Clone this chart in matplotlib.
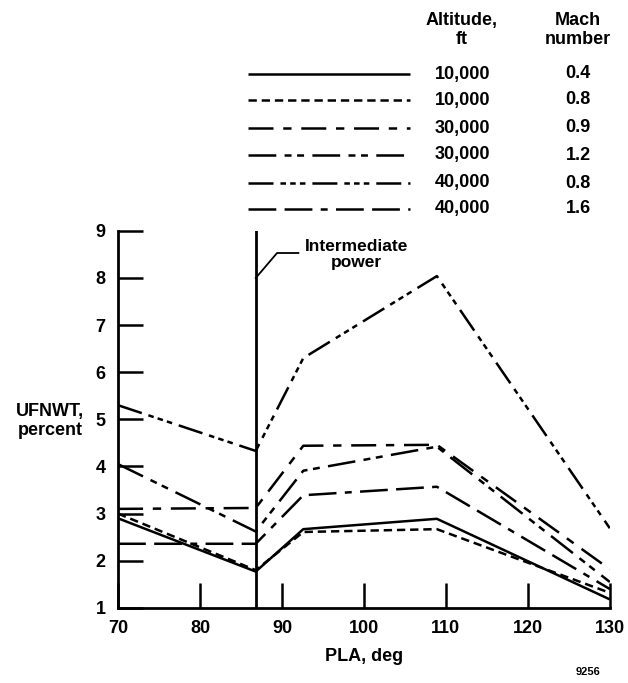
import matplotlib
matplotlib.use("Agg")
import matplotlib.pyplot as plt
from matplotlib.lines import Line2D

plt.rcParams["font.family"] = ["Liberation Sans", "DejaVu Sans"]
plt.rcParams["font.weight"] = "bold"
plt.rcParams["lines.scale_dashes"] = False

# PLA, deg
pla = [70, 86.8, 92.6, 108.9, 130]

# UFNWT, percent for each flight condition
alt10k_m04 = [2.9, 1.77, 2.67, 2.89, 1.18]
alt10k_m08 = [3.0, 1.80, 2.61, 2.67, 1.32]
alt30k_m09 = [3.1, 3.12, 4.44, 4.46, 1.82]
alt30k_m12 = [4.05, 2.62, 3.91, 4.42, 1.55]
alt40k_m08 = [5.3, 4.33, 6.3, 8.04, 2.69]
alt40k_m16 = [2.36, 2.36, 3.39, 3.57, 1.40]

altitudes = ["10,000", "10,000", "30,000", "30,000", "40,000", "40,000"]
machs = ["0.4", "0.8", "0.9", "1.2", "0.8", "1.6"]

series = [alt10k_m04, alt10k_m08, alt30k_m09, alt30k_m12, alt40k_m08, alt40k_m16]
styles = [
    (0, ()),
    (0, (6, 3.5)),
    (0, (18, 7, 6, 7)),
    (0, (20, 6, 5, 4, 5, 6)),
    (0, (18, 5, 4, 3, 4, 3, 4, 5)),
    (0, (20, 6, 20, 6, 5, 6)),
]

intermediate_pla = 86.8
FS = 13

fig = plt.figure(figsize=(6.28, 6.83), dpi=100)
ax = fig.add_axes([0.188, 0.110, 0.783, 0.552])

for values, ls in zip(series, styles):
    ax.plot(pla, values, color="black", linewidth=1.8, linestyle=ls)

ax.axvline(intermediate_pla, color="black", linewidth=2.0)
ax.plot([intermediate_pla, 89.4, 92.0], [8.0, 8.53, 8.53],
        color="black", linewidth=1.3)
ax.text(92.8, 8.5, "Intermediate\npower", fontsize=12.5, fontweight="bold",
        ha="left", va="center", multialignment="center", linespacing=1.1)

ax.set_xlim(70, 130)
ax.set_ylim(1, 9)
ax.set_xticks(range(70, 131, 10))
ax.set_yticks(range(1, 10))
for side in ("top", "right"):
    ax.spines[side].set_visible(False)
for side in ("left", "bottom"):
    ax.spines[side].set_linewidth(2.0)
ax.tick_params(direction="in", length=18, width=1.8, labelsize=FS)
ax.tick_params(axis="x", pad=9)
ax.tick_params(axis="y", pad=9)

ax.set_xlabel("PLA, deg", fontsize=FS, fontweight="bold", labelpad=8)
fig.text(0.08, 0.384, "UFNWT,\npercent", fontsize=FS, fontweight="bold",
         ha="center", va="center", multialignment="center", linespacing=1.15)
fig.text(0.936, 0.012, "9256", fontsize=8, fontweight="bold", ha="center")

# legend drawn as a small table above the plot
fig.text(462 / 628, 1 - 30 / 683, "Altitude,\nft", fontsize=FS,
         fontweight="bold", ha="center", va="center", linespacing=1.15)
fig.text(578 / 628, 1 - 30 / 683, "Mach\nnumber", fontsize=FS,
         fontweight="bold", ha="center", va="center", linespacing=1.15)
row_y = [74, 100, 128, 155, 183, 209]
for y, ls, alt, mach in zip(row_y, styles, altitudes, machs):
    fy = 1 - y / 683
    fig.add_artist(Line2D([248 / 628, 410 / 628], [fy, fy], color="black",
                          linewidth=1.8, linestyle=ls))
    fig.text(490 / 628, fy, alt, fontsize=FS, fontweight="bold",
             ha="right", va="center")
    fig.text(578 / 628, fy, mach, fontsize=FS, fontweight="bold",
             ha="center", va="center")

fig.savefig("out.png", dpi=100)
